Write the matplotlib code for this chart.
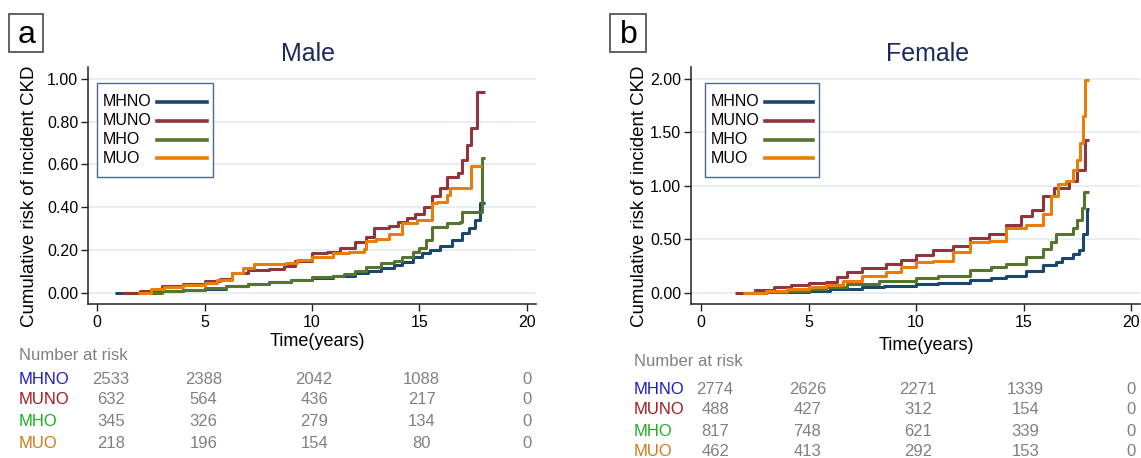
import matplotlib
matplotlib.use("Agg")
import matplotlib.pyplot as plt
import matplotlib.transforms as mtransforms
from matplotlib.patches import Rectangle
from matplotlib.lines import Line2D

plt.rcParams["font.family"] = ["Liberation Sans", "DejaVu Sans"]

# -------- Data --------
groups = ["MHNO", "MUNO", "MHO", "MUO"]

# Male
male_mhno_t = [0.84, 2.0, 3.0, 4.0, 5.0, 6.0, 7.0, 8.0, 9.0, 10.0, 11.0, 12.0, 12.6, 13.2, 13.8,
               14.2, 14.7, 15.1, 15.5, 15.95, 16.5, 17.0, 17.3, 17.6, 17.8, 18.05]
male_mhno_v = [0.0, 0.004, 0.008, 0.012, 0.019, 0.03, 0.04, 0.048, 0.058, 0.068, 0.078, 0.09, 0.1, 0.115, 0.13,
               0.145, 0.167, 0.185, 0.2, 0.22, 0.245, 0.28, 0.3, 0.34, 0.42, 0.42]
male_muno_t = [1.16, 2.0, 3.0, 4.0, 5.0, 5.7, 6.3, 7.0, 8.0, 8.7, 9.2, 10.0, 10.7, 11.3, 12.0, 12.5,
               12.9, 13.6, 14.0, 14.4, 14.8, 15.2, 15.6, 15.95, 16.3, 16.8, 17.0, 17.2, 17.4, 17.67, 18.05]
male_muno_v = [0.0, 0.01, 0.03, 0.04, 0.053, 0.065, 0.09, 0.105, 0.11, 0.125, 0.15, 0.185, 0.19, 0.21, 0.235, 0.26,
               0.30, 0.31, 0.33, 0.35, 0.37, 0.40, 0.45, 0.49, 0.54, 0.56, 0.62, 0.69, 0.77, 0.937, 0.937]
male_mho_t = [1.9, 3.0, 4.0, 5.0, 6.0, 7.0, 8.0, 9.0, 10.0, 11.0, 11.5, 12.0, 12.5, 13.2, 13.8, 14.2, 14.7,
              15.0, 15.3, 15.6, 16.3, 16.9, 17.0, 17.9, 18.05]
male_mho_v = [0.0, 0.008, 0.012, 0.02, 0.03, 0.042, 0.05, 0.058, 0.072, 0.078, 0.088, 0.1, 0.12, 0.14, 0.15, 0.165,
              0.19, 0.21, 0.245, 0.305, 0.325, 0.33, 0.376, 0.63, 0.63]
male_muo_t = [1.9, 2.5, 3.1, 4.0, 5.0, 5.6, 6.3, 6.8, 7.3, 8.8, 9.3, 10.0, 11.0, 11.7, 12.4, 12.5, 13.0, 13.6,
              14.2, 14.9, 15.6, 15.8, 16.3, 16.4, 17.4, 17.9]
male_muo_v = [0.0, 0.015, 0.027, 0.035, 0.045, 0.06, 0.09, 0.115, 0.136, 0.14, 0.155, 0.167, 0.185, 0.19, 0.206,
              0.24, 0.25, 0.276, 0.325, 0.34, 0.42, 0.425, 0.455, 0.49, 0.59, 0.59]

# Female
female_mhno_t = [1.7, 3.0, 4.0, 5.0, 6.0, 7.5, 8.5, 10.0, 11.0, 12.5, 13.5, 14.2, 15.1, 15.9, 16.5, 16.8,
                 17.3, 17.6, 17.75, 17.97, 18.05]
female_mhno_v = [0.0, 0.005, 0.01, 0.016, 0.03, 0.053, 0.065, 0.08, 0.095, 0.116, 0.135, 0.16, 0.2, 0.256, 0.29,
                 0.32, 0.36, 0.40, 0.55, 0.78, 0.78]
female_muno_t = [1.6, 2.5, 3.4, 4.2, 5.0, 5.8, 6.3, 6.8, 7.5, 8.6, 9.3, 10.0, 10.8, 11.7, 12.5, 13.4, 14.2,
                 14.9, 15.4, 15.9, 16.4, 17.1, 17.5, 17.88, 18.05]
female_muno_v = [0.0, 0.025, 0.05, 0.07, 0.09, 0.1, 0.15, 0.19, 0.23, 0.27, 0.31, 0.35, 0.40, 0.44, 0.51, 0.55,
                 0.63, 0.72, 0.77, 0.90, 0.98, 1.04, 1.15, 1.43, 1.43]
female_mho_t = [1.95, 3.0, 4.0, 5.0, 5.8, 6.8, 8.3, 10.0, 11.0, 12.5, 13.5, 14.2, 15.1, 15.9, 16.3, 16.5,
                17.3, 17.5, 17.7, 17.83, 18.05]
female_mho_v = [0.0, 0.01, 0.02, 0.03, 0.05, 0.085, 0.105, 0.14, 0.16, 0.21, 0.24, 0.27, 0.33, 0.41, 0.47, 0.55,
                0.60, 0.68, 0.79, 0.94, 0.94]
female_muo_t = [1.95, 3.0, 4.0, 5.0, 5.8, 6.6, 7.5, 8.6, 9.3, 10.0, 10.8, 11.7, 12.5, 13.4, 14.2, 15.1, 15.9,
                16.3, 16.6, 17.0, 17.3, 17.5, 17.65, 17.75, 17.85, 18.05]
female_muo_v = [0.0, 0.02, 0.035, 0.05, 0.07, 0.11, 0.16, 0.19, 0.24, 0.29, 0.30, 0.38, 0.47, 0.48, 0.60, 0.63,
                0.74, 0.90, 1.02, 1.04, 1.15, 1.24, 1.40, 1.65, 1.99, 1.99]

male_at_risk = [[2533, 2388, 2042, 1088, 0],
                [632, 564, 436, 217, 0],
                [345, 326, 279, 134, 0],
                [218, 196, 154, 80, 0]]
female_at_risk = [[2774, 2626, 2271, 1339, 0],
                  [488, 427, 312, 154, 0],
                  [817, 748, 621, 339, 0],
                  [462, 413, 292, 153, 0]]

male_yticks = [0.0, 0.2, 0.4, 0.6, 0.8, 1.0]
female_yticks = [0.0, 0.5, 1.0, 1.5, 2.0]
xticks = [0, 5, 10, 15, 20]

# -------- Style --------
line_colors = ["#1a476f", "#90353b", "#55752f", "#e87d0b"]
label_colors = ["#1c1cc8", "#a51c1c", "#1faf1f", "#cf7a1c"]
grid_color = "#e6eef2"
title_color = "#1c2a5a"
gray = "#808080"

W, H = 1141, 458


def px_rect(l, t, r, b):
    return [l / W, 1 - b / H, (r - l) / W, (b - t) / H]


def fx(x):
    return x / W


def fy(y):
    return 1 - y / H


fig = plt.figure(figsize=(W / 100, H / 100), dpi=100)


def draw_panel(rect, xlim, ylim, yticks, series, at_risk, letter, letter_box, title, title_x,
               ylabel_x, xlabel_xy, table_label_x, table_rows_y, table_head_y, legend_box):
    ax = fig.add_axes(px_rect(*rect))
    for (t, v), c, name in zip(series, line_colors, groups):
        ax.plot(t, v, drawstyle="steps-post", color=c, lw=2.2, label=name, solid_capstyle="butt")
    ax.set_xlim(*xlim)
    ax.set_ylim(*ylim)
    ax.set_xticks(xticks)
    ax.set_yticks(yticks)
    ax.set_yticklabels([f"{y:.2f}" for y in yticks])
    ax.yaxis.grid(True, color=grid_color, lw=1.4)
    ax.set_axisbelow(True)
    for s in ["top", "right"]:
        ax.spines[s].set_visible(False)
    for s in ["left", "bottom"]:
        ax.spines[s].set_color("#222222")
        ax.spines[s].set_linewidth(1.1)
    ax.tick_params(axis="both", labelsize=11.5, length=5, width=1.0, color="#222222")
    ax.tick_params(axis="y", pad=2)
    ax.tick_params(axis="x", pad=3)

    # legend box drawn by hand: labels left, line samples right
    l, t, r, b = legend_box
    fig.patches.append(Rectangle((fx(l), fy(b)), (r - l) / W, (b - t) / H, transform=fig.transFigure,
                                 fc="white", ec="#4a6a8a", lw=1.0, zorder=5))
    for i, (name, c) in enumerate(zip(groups, line_colors)):
        yy = t + 19 + 18.8 * i
        fig.text(fx(l + 6), fy(yy), name, fontsize=11.5, ha="left", va="center", zorder=6)
        fig.lines.append(Line2D([fx(l + 60), fx(r - 6)], [fy(yy), fy(yy)], transform=fig.transFigure,
                                color=c, lw=2.6, zorder=6))

    # panel letter in a box
    l, t, r, b = letter_box
    fig.patches.append(Rectangle((fx(l), fy(b)), (r - l) / W, (b - t) / H, transform=fig.transFigure,
                                 fill=False, ec="#555555", lw=1.3))
    fig.text(fx((l + r) / 2 + 0.5), fy(43), letter, fontsize=23, ha="center", va="baseline")

    fig.text(fx(title_x), fy(61), title, fontsize=18, color=title_color, ha="center", va="baseline")
    fig.text(fx(ylabel_x), fy(196), "Cumulative risk of incident CKD", rotation=90,
             fontsize=13.4, ha="center", va="center")
    fig.text(fx(xlabel_xy[0]), fy(xlabel_xy[1]), "Time(years)", fontsize=13, ha="center", va="center")

    # number at risk table
    trans = mtransforms.blended_transform_factory(ax.transData, fig.transFigure)
    fig.text(fx(table_label_x), fy(table_head_y), "Number at risk", fontsize=12, color=gray,
             ha="left", va="center")
    col_x = [0.65, 4.95, 10.1, 15.1, 20.0]
    for name, c, row, y in zip(groups, label_colors, at_risk, table_rows_y):
        fig.text(fx(table_label_x), fy(y), name, fontsize=12, color=c, ha="left", va="center")
        for xv, n in zip(col_x, row):
            ax.text(xv, fy(y), str(n), transform=trans, fontsize=12, color=gray,
                    ha="center", va="center", clip_on=False)
    return ax


male_series = [(male_mhno_t, male_mhno_v), (male_muno_t, male_muno_v),
               (male_mho_t, male_mho_v), (male_muo_t, male_muo_v)]
female_series = [(female_mhno_t, female_mhno_v), (female_muno_t, female_muno_v),
                 (female_mho_t, female_mho_v), (female_muo_t, female_muo_v)]

draw_panel((88, 67, 536, 304), (-0.42, 20.42), (-0.053, 1.055), male_yticks, male_series, male_at_risk,
           "a", (9, 14, 43, 52), "Male", 308, 30, (317, 342), 19, [379, 400, 422, 443], 355,
           (97, 83, 213, 177))
draw_panel((691, 67, 1140, 304), (-0.47, 20.42), (-0.106, 2.11), female_yticks, female_series,
           female_at_risk, "b", (610, 14, 646, 52), "Female", 928, 640, (926, 345), 634,
           [389, 410, 431, 451], 362, (705, 83, 819, 177))

fig.savefig("out.png", dpi=100)
